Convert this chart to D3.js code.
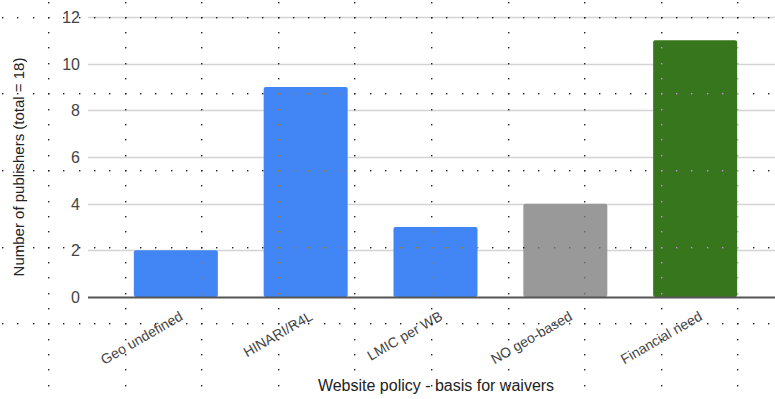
<!DOCTYPE html>
<html>
<head>
<meta charset="utf-8">
<script src="https://cdn.jsdelivr.net/npm/d3@7"></script>
<style>
html,body{margin:0;padding:0;background:#fff;}
svg{display:block;font-family:"Liberation Sans",Arial,sans-serif;}
</style>
</head>
<body>
<svg id="chart" width="775" height="399"></svg>
<script>
// ---- data ----
const categories = ["Geo undefined", "HINARI/R4L", "LMIC per WB", "NO geo-based", "Financial need"];
const values = [2, 9, 3, 4, 11];
const barColors = ["#4285f4", "#4285f4", "#4285f4", "#999999", "#38761d"];
const yTicks = [0, 2, 4, 6, 8, 10, 12];
const xTitle = "Website policy - basis for waivers";
const yTitle = "Number of publishers (total = 18)";

const W = 775, H = 399;
const svg = d3.select("#chart");

const y = d3.scaleLinear().domain([0, 12]).range([297, 17]);
const x = d3.scaleBand().domain(categories).range([111, 760]).paddingInner(0.353).paddingOuter(0.176);

// gridlines
svg.append("g").selectAll("line").data(yTicks.filter(d => d !== 0)).join("line")
  .attr("x1", 88).attr("x2", W)
  .attr("y1", d => Math.round(y(d)) + 0.5).attr("y2", d => Math.round(y(d)) + 0.5)
  .attr("stroke", "#d4d4d4").attr("stroke-width", 1.5);

// y tick labels
const yAxis = d3.axisLeft(y).tickValues(yTicks).tickSize(0).tickPadding(0);
const ya = svg.append("g").attr("transform", "translate(80,0)").call(yAxis);
ya.select(".domain").remove();
ya.selectAll("text").attr("font-size", 16).attr("fill", "#444").attr("dy", "0.35em")
  .attr("font-family", "Liberation Sans, Arial, sans-serif");

// bars
svg.append("g").selectAll("rect").data(categories).join("rect")
  .attr("x", d => x(d))
  .attr("width", x.bandwidth())
  .attr("y", (d, i) => y(values[i]))
  .attr("height", (d, i) => y(0) - y(values[i]))
  .attr("rx", 2)
  .attr("fill", (d, i) => barColors[i]);

// baseline
svg.append("line").attr("x1", 88).attr("x2", W)
  .attr("y1", y(0) + 0.5).attr("y2", y(0) + 0.5)
  .attr("stroke", "#555").attr("stroke-width", 2);

// x labels (rotated)
const xAxis = d3.axisBottom(x).tickSize(0).tickPadding(0);
const xa = svg.append("g").call(xAxis);
xa.select(".domain").remove();
xa.selectAll(".tick").attr("transform", d => `translate(${x(d) + x.bandwidth() / 2 + 8},319)`);
xa.selectAll("text")
  .attr("y", 0).attr("dy", 0)
  .attr("text-anchor", "end")
  .attr("transform", "rotate(-30)")
  .attr("font-size", 14).attr("fill", "#444")
  .attr("font-family", "Liberation Sans, Arial, sans-serif");

// axis titles
svg.append("text").attr("x", 436).attr("y", 391).attr("text-anchor", "middle")
  .attr("font-size", 16).attr("fill", "#222").text(xTitle);
svg.append("text").attr("transform", "translate(24,167) rotate(-90)")
  .attr("text-anchor", "middle").attr("font-size", 15).attr("fill", "#222").text(yTitle);

// dotted lattice overlay seen in the picture (inverted colour over bars)
const dots = [];
const step = 15.32, big = 76.6;
for (let j = 0; 17.3 + big * j < H; j++) {
  for (let i = 0; 2.5 + step * i < W; i++) dots.push([2.5 + step * i, 17.3 + big * j]);
}
for (let i = 0; 48.5 + big * i < W; i++) {
  for (let j = 0; 2 + step * j < H; j++) dots.push([48.5 + big * i, 2 + step * j]);
}
function dotColor(d) {
  const px = Math.floor(d[0]), py = Math.floor(d[1]);
  for (let i = 0; i < categories.length; i++) {
    const x0 = x(categories[i]), x1 = x0 + x.bandwidth();
    if (px >= x0 && px <= x1 && py >= y(values[i]) && py <= y(0)) {
      const c = d3.rgb(barColors[i]);
      return d3.rgb(255 - c.r, 255 - c.g, 255 - c.b).formatHex();
    }
  }
  return "#222";
}
svg.append("g").selectAll("rect").data(dots).join("rect")
  .attr("x", d => Math.floor(d[0])).attr("y", d => Math.floor(d[1]))
  .attr("width", 1.4).attr("height", 1.4)
  .attr("fill", dotColor);
</script>
</body>
</html>
